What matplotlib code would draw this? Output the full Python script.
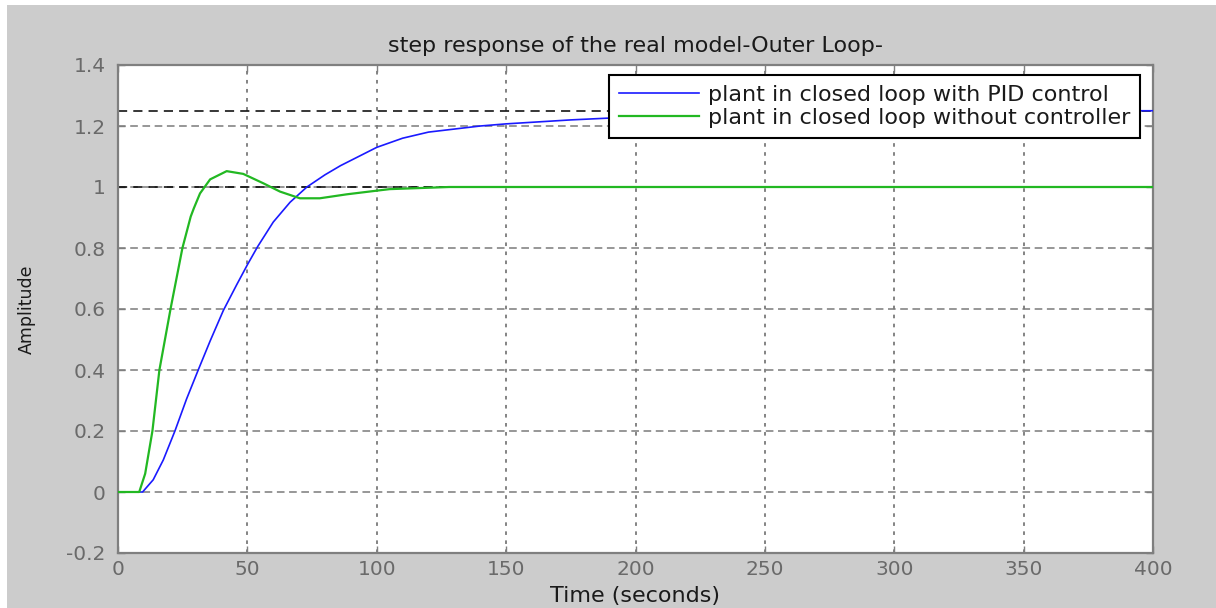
import matplotlib
matplotlib.use("Agg")
import matplotlib.pyplot as plt
from matplotlib.patches import Rectangle

# step response samples (time in seconds, amplitude)
t_pid = [0, 9.5, 13.6, 17.5, 22, 26.5, 31, 35.6, 40.7, 45.9, 50, 54, 60, 66.5,
         73, 80, 86, 93, 100, 110, 120, 130, 140, 150, 175, 200, 225, 250,
         300, 350, 400]
y_pid = [0, 0, 0.04, 0.105, 0.2, 0.305, 0.4, 0.495, 0.595, 0.68, 0.745, 0.805,
         0.885, 0.95, 1.0, 1.04, 1.07, 1.1, 1.13, 1.16, 1.18, 1.19, 1.2, 1.207,
         1.22, 1.23, 1.238, 1.243, 1.248, 1.25, 1.25]

t_open = [0, 8.2, 10.5, 13.3, 16.0, 20.3, 24.9, 28.1, 29.3, 31.7, 35.6, 42,
          48.4, 56.2, 62.6, 70.3, 78, 88.4, 100, 105, 128, 400]
y_open = [0, 0, 0.06, 0.2, 0.4, 0.6, 0.8, 0.903, 0.93, 0.979, 1.025, 1.052,
          1.043, 1.012, 0.985, 0.963, 0.963, 0.976, 0.988, 0.993, 1.0, 1.0]

final_pid = 1.25
final_open = 1.0

labels = ["plant in closed loop with PID control",
          "plant in closed loop without controller"]
x_ticks = [0, 50, 100, 150, 200, 250, 300, 350, 400]
y_ticks = [-0.2, 0, 0.2, 0.4, 0.6, 0.8, 1, 1.2, 1.4]

plt.rcParams['font.family'] = ['DejaVu Sans']

fig = plt.figure(figsize=(12.16, 6.08), dpi=100, facecolor='white')
fig.patches.append(Rectangle((7 / 1216, 0), 1, 1 - 5 / 608,
                             transform=fig.transFigure, facecolor='#cccccc',
                             edgecolor='none', zorder=-10))
ax = fig.add_axes([118 / 1216, 1 - 553 / 608, (1153 - 118) / 1216, (553 - 65) / 608])
ax.set_facecolor('white')

# steady-state reference lines
ax.axhline(final_pid, color='black', lw=1.1, ls=(0, (6, 4)), zorder=2)
ax.axhline(final_open, color='black', lw=1.1, ls=(0, (6, 4)), zorder=2)

ax.plot(t_pid, y_pid, color='#1a1aff', lw=1.2, label=labels[0], zorder=3)
ax.plot(t_open, y_open, color='#22b822', lw=1.6, label=labels[1], zorder=3)

ax.set_xlim(0, 400)
ax.set_ylim(-0.2, 1.4)
ax.set_xticks(x_ticks)
ax.set_yticks(y_ticks)
ax.set_yticklabels(['%g' % v for v in y_ticks])

# grid: dotted verticals, dashed horizontals
for x in x_ticks[1:-1]:
    ax.axvline(x, color='#7a7a7a', lw=1.3, ls=(0, (2, 3)), zorder=1)
for y in y_ticks[1:-1]:
    ax.axhline(y, color='#7a7a7a', lw=1.1, ls=(0, (5, 3)), zorder=1)

for s in ax.spines.values():
    s.set_color('#7f7f7f')
    s.set_linewidth(1.6)
ax.tick_params(axis='both', direction='in', length=5, width=1, colors='#7f7f7f',
               labelsize=14.5, labelcolor='#6a6a6a', top=True, right=True)
ax.tick_params(axis='y', pad=9)
ax.tick_params(axis='x', pad=5)

ax.set_title("step response of the real model-Outer Loop-", fontsize=16,
             color='#1a1a1a', pad=9)
ax.set_xlabel("Time (seconds)", fontsize=16, color='#1a1a1a', labelpad=5)
ax.set_ylabel("Amplitude", fontsize=12.5, color='#1a1a1a', labelpad=22)

leg = ax.legend(loc='upper right', bbox_to_anchor=(1 - 13 / 1035, 1 - 10 / 488),
                borderaxespad=0, fontsize=16, frameon=True, fancybox=False,
                handlelength=3.6, handletextpad=0.4, labelspacing=0.12,
                borderpad=0.45)
leg.get_frame().set_edgecolor('black')
leg.get_frame().set_linewidth(1.5)
leg.get_frame().set_alpha(1)
for txt in leg.get_texts():
    txt.set_color('#1a1a1a')

fig.savefig("out.png", dpi=100, facecolor=fig.get_facecolor())
